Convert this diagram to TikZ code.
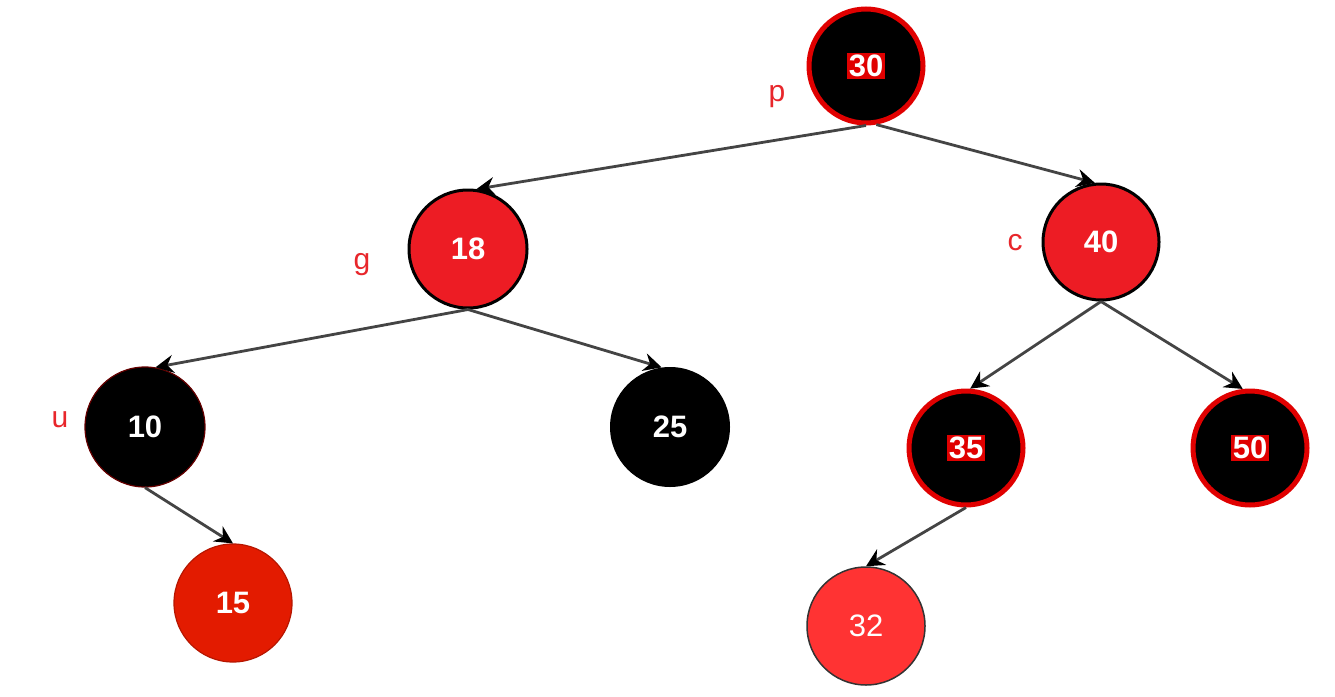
\documentclass[tikz,border=0pt]{standalone}
\usepackage{fontspec}
\setmainfont{Liberation Sans}
\usetikzlibrary{arrows.meta}
\definecolor{rbred}{HTML}{ED1C24}
\definecolor{ringred}{HTML}{E00000}
\definecolor{leafred}{HTML}{E31B00}
\definecolor{lightred}{HTML}{FF3333}
\definecolor{lblred}{HTML}{E8262B}
\definecolor{edgegray}{HTML}{444444}
\newcommand\redhalo[1]{{\setlength{\fboxsep}{2pt}\colorbox{ringred}{\color{white}#1}}}
\tikzset{
  rb/.style={circle, inner sep=0pt, font=\fontsize{31}{31}\selectfont\bfseries},
  blackring/.style={rb, fill=black, draw=ringred, line width=5pt, minimum size=#1},
  redfill/.style={rb, fill=rbred, draw=black, line width=3pt, text=white, minimum size=#1},
  blacknode/.style={rb, fill=black, draw=black!60!red, line width=1.2pt, text=white, minimum size=#1},
  rednode/.style={rb, fill=#1, draw=#1!80!black, line width=1.2pt, text=white, minimum size=118pt},
  lbl/.style={text=lblred, font=\fontsize{30}{30}\selectfont},
  edge/.style={draw=edgegray, line width=2.8pt, -{Stealth[length=18pt,width=18pt,inset=6pt,color=black]}}
}
\begin{document}
\begin{tikzpicture}[x=1pt,y=-1pt]
\useasboundingbox (0,0) rectangle (1335,696);
\fill[white] (0,0) rectangle (1335,696);
% nodes
\node[blackring=114pt] (n30) at (866,66) {\redhalo{30}};
\node[redfill=118pt] (n18) at (468,249) {18};
\node[redfill=116pt] (n40) at (1101,242) {40};
\node[blacknode=120pt] (n10) at (145,427) {10};
\node[rb, fill=black, text=white, minimum size=120pt] (n25) at (670,427) {25};
\node[blackring=114pt] (n35) at (966,448) {\redhalo{35}};
\node[blackring=114pt] (n50) at (1250,448) {\redhalo{50}};
\node[rednode=leafred] (n15) at (233,603) {15};
\node[rb, fill=lightred, draw=black!80, line width=1.5pt, text=white, minimum size=118pt, font=\fontsize{31}{31}\selectfont] (n32) at (866,626) {32};
% labels
\node[lbl] (lp) at (777,97) {p};
\node[lbl] (lg) at (362,265) {g};
\node[lbl] (lc) at (1015,243) {c};
\node[lbl] (lu) at (60,420) {u};
% edges
\draw[edge] (n30.south) -- (n18.82);
\draw[edge] (n30.-80) -- (n40.96);
\draw[edge] (n18.south) -- (n10.80);
\draw[edge] (n18.south) -- (n25.98);
\draw[edge] (n40.south) -- (n35.86);
\draw[edge] (n40.south) -- (n50.97);
\draw[edge] (n10.south) -- (n15.north);
\draw[edge] (n35.south) -- (n32.north);
\end{tikzpicture}
\end{document}
